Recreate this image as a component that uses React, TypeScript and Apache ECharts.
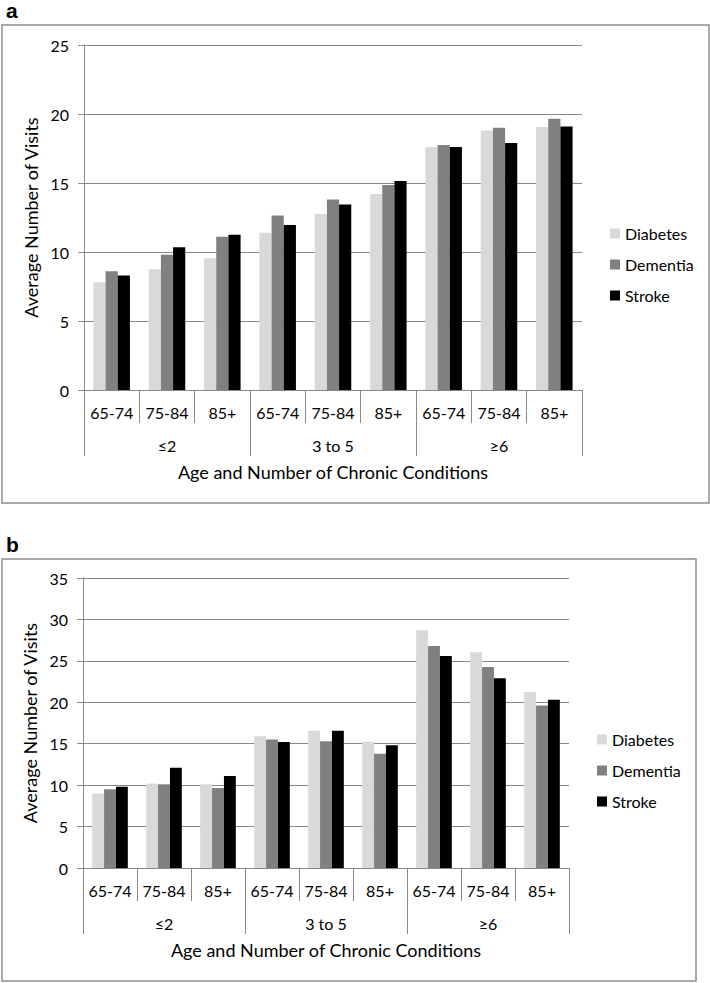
import React, { useEffect, useRef } from "react";
import * as echarts from "echarts";

const ageLabels = ["65-74", "75-84", "85+", "65-74", "75-84", "85+", "65-74", "75-84", "85+"];
const groupLabels = ["≤2", "3 to 5", "≥6"];
const seriesNames = ["Diabetes", "Dementia", "Stroke"];
const seriesColors = ["#d9d9d9", "#808080", "#000000"];

const diabetesA = [7.8, 8.75, 9.55, 11.4, 12.75, 14.2, 17.6, 18.8, 19.05];
const dementiaA = [8.6, 9.8, 11.1, 12.65, 13.8, 14.85, 17.75, 19.0, 19.65];
const strokeA = [8.3, 10.35, 11.25, 11.95, 13.45, 15.15, 17.6, 17.9, 19.1];

const diabetesB = [9.0, 10.2, 10.1, 15.9, 16.55, 15.25, 28.7, 26.05, 21.25];
const dementiaB = [9.5, 10.1, 9.65, 15.5, 15.3, 13.8, 26.8, 24.25, 19.6];
const strokeB = [9.8, 12.1, 11.1, 15.2, 16.55, 14.8, 25.6, 22.9, 20.3];

const yMaxA = 25;
const yMaxB = 35;
const yInterval = 5;

const FONT = "Lato";
const GRIDC = "#8a8a8a";

export default function App() {
  const ref = useRef<HTMLDivElement>(null);
  useEffect(() => {
    document.body.style.margin = "0";
    const chart = echarts.init(ref.current!, null, { renderer: "svg" });
    const gridDefs = [
      { left: 84, top: 45, width: 498, height: 345 },
      { left: 83, top: 578, width: 486, height: 290 },
    ];
    const makeX = (gi: number) => [
      {
        type: "category",
        gridIndex: gi,
        position: "bottom",
        offset: 0,
        data: ageLabels,
        boundaryGap: true,
        axisLine: { show: true, lineStyle: { color: GRIDC, width: 1 } },
        axisTick: { show: true, length: 33, lineStyle: { color: GRIDC, width: 1 } },
        axisLabel: { color: "#000", fontFamily: FONT, fontSize: 16, margin: 14, interval: 0 },
      },
      {
        type: "category",
        gridIndex: gi,
        position: "bottom",
        offset: 0,
        data: groupLabels,
        boundaryGap: true,
        axisLine: { show: false },
        axisTick: { show: true, length: 66, lineStyle: { color: GRIDC, width: 1 } },
        axisLabel: { color: "#000", fontFamily: FONT, fontSize: 16, margin: 47, interval: 0 },
        name: "Age and Number of Chronic Conditions",
        nameLocation: "middle",
        nameGap: 73,
        nameTextStyle: { color: "#000", fontFamily: FONT, fontSize: 18 },
      },
    ];
    const makeY = (gi: number, max: number) => ({
      type: "value",
      gridIndex: gi,
      min: 0,
      max,
      interval: yInterval,
      axisLine: { show: true, lineStyle: { color: GRIDC, width: 1 } },
      axisTick: { show: true, length: 6, lineStyle: { color: GRIDC, width: 1 } },
      splitLine: { show: true, lineStyle: { color: GRIDC, width: 1 } },
      axisLabel: { color: "#000", fontFamily: FONT, fontSize: 16, margin: 15 },
      name: "Average Number of Visits",
      nameLocation: "middle",
      nameGap: 40,
      nameTextStyle: { color: "#000", fontFamily: FONT, fontSize: 18 },
    });
    const dataA = [diabetesA, dementiaA, strokeA];
    const dataB = [diabetesB, dementiaB, strokeB];
    const series: any[] = [];
    [dataA, dataB].forEach((set, gi) => {
      set.forEach((vals, i) => {
        series.push({
          type: "bar",
          name: seriesNames[i],
          xAxisIndex: gi * 2,
          yAxisIndex: gi,
          data: vals,
          barGap: "0%",
          barCategoryGap: "34%",
          itemStyle: { color: seriesColors[i] },
        });
      });
    });
    const legendBase = {
      orient: "vertical",
      icon: "rect",
      itemWidth: 10,
      itemHeight: 10,
      itemGap: 14,
      data: seriesNames,
      selectedMode: false,
      textStyle: { color: "#000", fontFamily: FONT, fontSize: 16, lineHeight: 17 },
    };
    chart.setOption({
      animation: false,
      grid: gridDefs,
      xAxis: [...makeX(0), ...makeX(1)],
      yAxis: [makeY(0, yMaxA), makeY(1, yMaxB)],
      legend: [
        { ...legendBase, left: 605, top: 220 },
        { ...legendBase, left: 592, top: 726 },
      ],
      series,
      graphic: [
        {
          type: "rect",
          shape: { x: 2, y: 25, width: 707, height: 478 },
          style: { fill: "none", stroke: "#8f8f8f", lineWidth: 1.5 },
          silent: true,
        },
        {
          type: "rect",
          shape: { x: 2, y: 559, width: 694, height: 422 },
          style: { fill: "none", stroke: "#8f8f8f", lineWidth: 1.5 },
          silent: true,
        },
        {
          type: "text",
          x: 6,
          y: 0,
          style: { text: "a", font: "bold 21px Arial", fill: "#000", verticalAlign: "top" },
        },
        {
          type: "text",
          x: 6,
          y: 534,
          style: { text: "b", font: "bold 21px Arial", fill: "#000", verticalAlign: "top" },
        },
      ],
    });
    return () => chart.dispose();
  }, []);
  return <div ref={ref} style={{ width: 710, height: 983 }} />;
}
